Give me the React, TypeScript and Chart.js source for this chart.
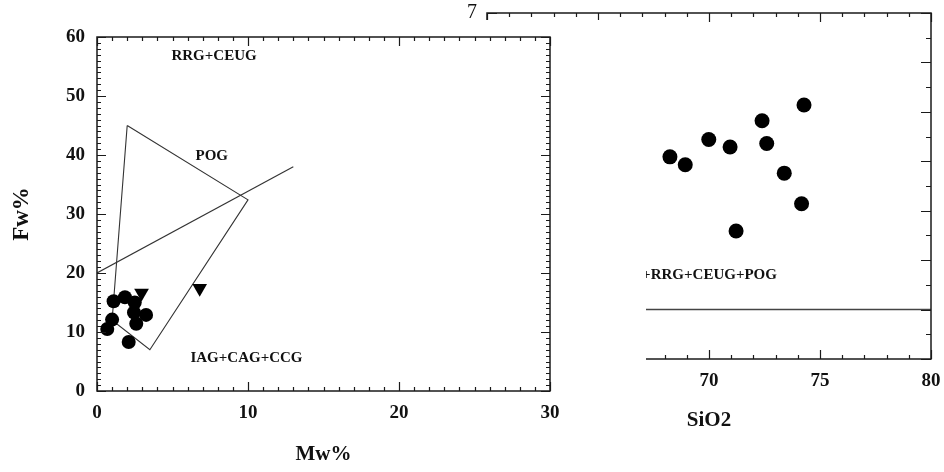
import React, { useEffect, useRef } from "react";
import { Chart, registerables } from "chart.js";
Chart.register(...registerables);

const SERIF = "'Liberation Serif', 'Times New Roman', serif";

// ---- Left panel data (Mw% vs Fw%) ----
const circleMw = [1.1, 1.85, 2.5, 2.45, 3.25, 2.6, 1.0, 0.68, 2.1];
const circleFw = [15.2, 15.9, 15.0, 13.3, 12.9, 11.4, 12.1, 10.5, 8.3];
const triMw = [2.95, 6.8];
const triFw = [16.6, 17.4];
const polyMw = [2, 10, 3.5, 1, 2];
const polyFw = [45, 32.4, 7, 12, 45];
const lineMw = [0, 13];
const lineFw = [20, 38];
const leftXTicks = [0, 10, 20, 30];
const leftYTicks = [0, 10, 20, 30, 40, 50, 60];
const leftFieldTexts = ["RRG+CEUG", "POG", "IAG+CAG+CCG"];
const leftFieldX = [7.75, 7.6, 9.9];
const leftFieldY = [56.8, 39.8, 5.6];

// ---- Right panel data (SiO2) ----
const sio2 = [68.24, 68.93, 69.99, 70.95, 72.39, 72.6, 74.28, 73.39, 74.17, 71.22];
const rightY = [4.09, 3.93, 4.44, 4.29, 4.82, 4.36, 5.14, 3.76, 3.14, 2.59];
const divideSiO2 = [60, 80];
const divideY = [1, 1];
const rightXTicks = [60, 65, 70, 75, 80];
const rightYTicks = [0, 1, 2, 3, 4, 5, 6, 7];
const rightFieldText = "IAG+CAG+CCG+RRG+CEUG+POG";
const rightFieldX = 73.06;
const rightFieldY = 1.7;

const zip = (xs: number[], ys: number[]) => xs.map((x, i) => ({ x, y: ys[i] }));

const noPad = (s: any) => {
  s.paddingTop = 0;
  s.paddingBottom = 0;
  s.paddingLeft = 0;
  s.paddingRight = 0;
};

const frameTicks = {
  id: "frameTicks",
  afterDatasetsDraw(chart: any, _args: any, o: any) {
    const { ctx, chartArea: a } = chart;
    const xs = chart.scales.x;
    const ys = chart.scales.y;
    ctx.save();
    ctx.strokeStyle = "#1a1a1a";
    ctx.lineWidth = 1.5;
    ctx.strokeRect(a.left, a.top, a.right - a.left, a.bottom - a.top);
    ctx.lineWidth = 1.2;
    ctx.beginPath();
    const nx = Math.round((xs.max - xs.min) / o.xMinor);
    for (let i = 0; i <= nx; i++) {
      const v = xs.min + i * o.xMinor;
      const r = v / o.xMajor;
      const major = Math.abs(r - Math.round(r)) < 1e-6;
      const L = major ? o.xMajorLen : o.xMinorLen;
      const px = Math.round(xs.getPixelForValue(v)) + 0.5;
      ctx.moveTo(px, a.bottom);
      ctx.lineTo(px, a.bottom - L);
      ctx.moveTo(px, a.top);
      ctx.lineTo(px, a.top + L);
    }
    const ny = Math.round((ys.max - ys.min) / o.yMinor);
    for (let i = 0; i <= ny; i++) {
      const v = ys.min + i * o.yMinor;
      const r = v / o.yMajor;
      const major = Math.abs(r - Math.round(r)) < 1e-6;
      const L = major ? o.yMajorLen : o.yMinorLen;
      const py = Math.round(ys.getPixelForValue(v)) + 0.5;
      ctx.moveTo(a.left, py);
      ctx.lineTo(a.left + L, py);
      ctx.moveTo(a.right, py);
      ctx.lineTo(a.right - L, py);
    }
    ctx.stroke();
    ctx.fillStyle = "#111";
    ctx.font = `bold 15px ${SERIF}`;
    ctx.textBaseline = "middle";
    (o.texts || []).forEach((t: any) => {
      ctx.textAlign = t.align || "center";
      ctx.fillText(t.text, xs.getPixelForValue(t.x), ys.getPixelForValue(t.y));
    });
    ctx.restore();
  },
};

function tickFont(size: number, weight: string) {
  return { family: SERIF, size, weight } as any;
}

function LeftChart() {
  const ref = useRef<HTMLCanvasElement>(null);
  useEffect(() => {
    const chart = new Chart(ref.current!, {
      type: "scatter",
      data: {
        datasets: [
          {
            data: zip(circleMw, circleFw),
            pointStyle: "circle",
            pointRadius: 7,
            backgroundColor: "#000",
            borderColor: "#000",
            borderWidth: 0,
          } as any,
          {
            data: zip(triMw, triFw),
            pointStyle: "triangle",
            rotation: 180,
            pointRadius: 8.5,
            backgroundColor: "#000",
            borderColor: "#000",
            borderWidth: 0,
          } as any,
          {
            data: zip(polyMw, polyFw),
            showLine: true,
            pointRadius: 0,
            borderColor: "#333",
            borderWidth: 1.1,
          } as any,
          {
            data: zip(lineMw, lineFw),
            showLine: true,
            pointRadius: 0,
            borderColor: "#333",
            borderWidth: 1.1,
          } as any,
        ],
      },
      options: {
        responsive: false,
        animation: false,
        devicePixelRatio: 1,
        events: [],
        layout: { padding: { left: 0, top: 17, right: 96, bottom: 0 } },
        plugins: {
          legend: { display: false },
          tooltip: { enabled: false },
          frameTicks: {
            xMinor: 1, xMajor: 10, xMinorLen: 4, xMajorLen: 9,
            yMinor: 1, yMajor: 10, yMinorLen: 4, yMajorLen: 9,
            texts: leftFieldTexts.map((t, i) => ({ text: t, x: leftFieldX[i], y: leftFieldY[i] })),
          },
        } as any,
        scales: {
          x: {
            type: "linear",
            min: 0,
            max: 30,
            afterBuildTicks: (s: any) => { s.ticks = leftXTicks.map((v) => ({ value: v })); },
            afterFit: (s: any) => { s.height = 81; noPad(s); },
            ticks: { font: tickFont(19, "bold"), color: "#111", padding: 11, maxRotation: 0 },
            grid: { display: false, drawTicks: false },
            border: { display: false },
            title: { display: true, text: "Mw%", font: tickFont(21, "bold"), color: "#111", padding: { top: 0, bottom: 5 } },
          },
          y: {
            type: "linear",
            min: 0,
            max: 60,
            afterBuildTicks: (s: any) => { s.ticks = leftYTicks.map((v) => ({ value: v })); },
            afterFit: (s: any) => { s.width = 97; noPad(s); },
            ticks: { font: tickFont(19, "bold"), color: "#111", padding: 12 },
            grid: { display: false, drawTicks: false },
            border: { display: false },
            title: { display: true, text: "Fw%", font: tickFont(23, "bold"), color: "#111", padding: { top: 8, bottom: 0 } },
          },
        },
      } as any,
      plugins: [frameTicks as any],
    });
    return () => chart.destroy();
  }, []);
  return (
    <canvas
      ref={ref}
      width={646}
      height={452}
      style={{ position: "absolute", left: 0, top: 20, width: 646, height: 452, background: "#fff" }}
    />
  );
}

function RightChart() {
  const ref = useRef<HTMLCanvasElement>(null);
  useEffect(() => {
    const chart = new Chart(ref.current!, {
      type: "scatter",
      data: {
        datasets: [
          {
            data: zip(sio2, rightY),
            pointStyle: "circle",
            pointRadius: 7.5,
            backgroundColor: "#000",
            borderColor: "#000",
            borderWidth: 0,
          } as any,
          {
            data: zip(divideSiO2, divideY),
            showLine: true,
            pointRadius: 0,
            borderColor: "#444",
            borderWidth: 1.5,
          } as any,
        ],
      },
      options: {
        responsive: false,
        animation: false,
        devicePixelRatio: 1,
        events: [],
        layout: { padding: { left: 0, top: 13, right: 13, bottom: 0 } },
        plugins: {
          legend: { display: false },
          tooltip: { enabled: false },
          frameTicks: {
            xMinor: 1, xMajor: 5, xMinorLen: 4, xMajorLen: 9,
            yMinor: 0.5, yMajor: 1, yMinorLen: 5, yMajorLen: 10,
            texts: [{ text: rightFieldText, x: rightFieldX, y: rightFieldY, align: "right" }],
          },
        } as any,
        scales: {
          x: {
            type: "linear",
            min: 60,
            max: 80,
            afterBuildTicks: (s: any) => { s.ticks = rightXTicks.map((v) => ({ value: v })); },
            afterFit: (s: any) => { s.height = 113; noPad(s); },
            ticks: { font: tickFont(19, "bold"), color: "#111", padding: 11, maxRotation: 0 },
            grid: { display: false, drawTicks: false },
            border: { display: false },
            title: { display: true, text: "SiO2", font: tickFont(21, "bold"), color: "#111", padding: { top: 0, bottom: 39 } },
          },
          y: {
            type: "linear",
            min: 0,
            max: 7,
            afterBuildTicks: (s: any) => { s.ticks = rightYTicks.map((v) => ({ value: v })); },
            afterFit: (s: any) => { s.width = 487; noPad(s); },
            ticks: { font: tickFont(20, "normal"), color: "#111", padding: 10 },
            grid: { display: false, drawTicks: false },
            border: { display: false },
          },
        },
      } as any,
      plugins: [frameTicks as any],
    });
    return () => chart.destroy();
  }, []);
  return (
    <canvas
      ref={ref}
      width={944}
      height={472}
      style={{ position: "absolute", left: 0, top: 0, width: 944, height: 472 }}
    />
  );
}

export default function App() {
  return (
    <div style={{ position: "absolute", left: 0, top: 0, width: 944, height: 472, background: "#fff", overflow: "hidden" }}>
      <RightChart />
      <LeftChart />
    </div>
  );
}
